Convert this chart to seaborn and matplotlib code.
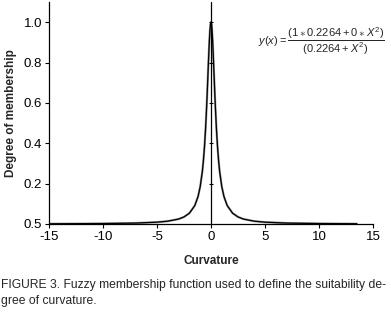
import matplotlib
matplotlib.use("Agg")
import matplotlib.pyplot as plt
import seaborn as sns
import pandas as pd

# Curve points (symmetric membership curve)
x_right = [0.0, 0.05, 0.1, 0.15, 0.2, 0.25, 0.3, 0.35, 0.4, 0.5, 0.6, 0.7, 0.8,
           1.0, 1.2, 1.5, 2.0, 2.5, 3.0, 4.0, 5.0, 7.0, 10.0, 13.5]
y_right = [1.000, 0.989, 0.958, 0.910, 0.850, 0.784, 0.716, 0.649, 0.586, 0.475,
           0.386, 0.316, 0.261, 0.185, 0.136, 0.0914, 0.0536, 0.0350, 0.0245,
           0.0140, 0.0090, 0.0046, 0.0023, 0.0012]
x_left = [-15.0, -10.0, -7.0, -5.0, -4.0, -3.0, -2.5, -2.0, -1.5, -1.2, -1.0, -0.8,
          -0.7, -0.6, -0.5, -0.4, -0.35, -0.3, -0.25, -0.2, -0.15, -0.1, -0.05]
y_left = [0.0010, 0.0023, 0.0046, 0.0090, 0.0140, 0.0245, 0.0350, 0.0536, 0.0914,
          0.136, 0.185, 0.261, 0.316, 0.386, 0.475, 0.586, 0.649, 0.716, 0.784,
          0.850, 0.910, 0.958, 0.989]

x_ticks = [-15, -10, -5, 0, 5, 10, 15]
y_ticks = [0.0, 0.2, 0.4, 0.6, 0.8, 1.0]
y_tick_labels = ["0.5", "0.2", "0.4", "0.6", "0.8", "1.0"]

df = pd.DataFrame({"x": x_left + x_right, "y": y_left + y_right})

sns.set_style("ticks")
fam = ["Liberation Sans", "DejaVu Sans"]
plt.rcParams["font.family"] = fam
plt.rcParams["mathtext.fontset"] = "custom"
plt.rcParams["mathtext.rm"] = "Liberation Sans"
plt.rcParams["mathtext.it"] = "Liberation Sans:italic"
plt.rcParams["mathtext.sf"] = "Liberation Sans"

fig = plt.figure(figsize=(3.91, 3.12), dpi=100)
ax = fig.add_axes([49/391, 88/312, 324/391, 222/312])

sns.lineplot(data=df, x="x", y="y", ax=ax, color="#999999", lw=1.6, sort=True)
sns.lineplot(data=df, x="x", y="y", ax=ax, color="black", lw=0.9, sort=True)

ax.set_xlim(-15, 15)
ax.set_ylim(0, 1.1)
ax.axvline(0, color="black", lw=0.9)
ax.plot([0] * (len(y_ticks) - 1), y_ticks[1:], ls="none", marker="_",
        color="black", ms=3, mew=0.8)

ax.set_xticks(x_ticks)
ax.set_xticklabels([str(t) for t in x_ticks])
ax.set_yticks(y_ticks)
ax.set_yticklabels(y_tick_labels)
ax.tick_params(axis="both", labelsize=9.5, length=3, width=0.8, colors="black", pad=2)
for s in ["top", "right"]:
    ax.spines[s].set_visible(False)
for s in ["left", "bottom"]:
    ax.spines[s].set_linewidth(0.9)
    ax.spines[s].set_color("black")

ax.set_xlabel("Curvature", fontsize=8.5, fontweight="bold", labelpad=9)
ax.set_ylabel("Degree of membership", fontsize=8.5, fontweight="bold", labelpad=5)

ax.text(0.645, 0.824, r"$y(x)=\dfrac{(1\ast0.2264+0\ast X^2)}{(0.2264+X^2)}$",
        transform=ax.transAxes, fontsize=8, ha="left", va="center")

fig.text(0.003, 1 - 293/312,
         "FIGURE 3. Fuzzy membership function used to define the suitability de-\ngree of curvature.",
         fontsize=8.7, ha="left", va="center", linespacing=1.45)

fig.savefig("out.png", dpi=100)
